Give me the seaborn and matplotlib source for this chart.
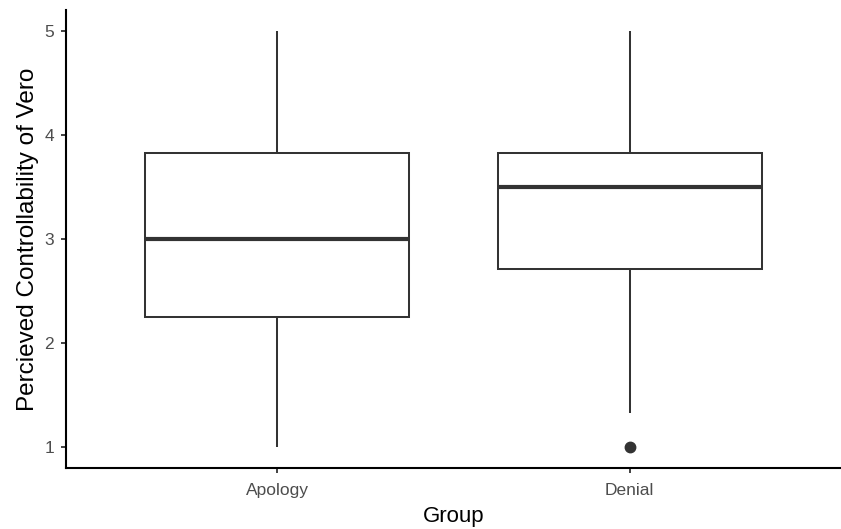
import matplotlib
matplotlib.use("Agg")
import matplotlib.pyplot as plt
import seaborn as sns
import pandas as pd

groups = ["Apology", "Denial"]
apology_scores = [1.0, 2.25, 2.25, 3.0, 3.83, 3.83, 5.0]
denial_scores = [1.0, 1.33, 2.71, 3.0, 3.5, 3.67, 3.83, 4.5, 5.0]
yticks = [1, 2, 3, 4, 5]

df = pd.DataFrame({
    "Group": [groups[0]] * len(apology_scores) + [groups[1]] * len(denial_scores),
    "Score": apology_scores + denial_scores,
})

sns.set_theme(style="ticks")
plt.rcParams["font.family"] = ["Liberation Sans", "DejaVu Sans"]

fig = plt.figure(figsize=(8.41, 5.29), dpi=100)
ax = fig.add_axes([66 / 841, (529 - 468) / 529, 1 - 66 / 841, (468 - 10) / 529])

dark = "#333333"
lw = 1.45
sns.boxplot(
    data=df, x="Group", y="Score", order=groups, ax=ax,
    width=0.75, color="white", linecolor=dark, linewidth=lw,
    showcaps=False,
    medianprops=dict(color=dark, linewidth=3.0),
    boxprops=dict(facecolor="white", edgecolor=dark, linewidth=lw),
    whiskerprops=dict(color=dark, linewidth=lw),
    flierprops=dict(marker="o", markerfacecolor=dark, markeredgecolor=dark, markersize=7.5),
)

ax.set_xlim(-0.6, 1.6)
ax.set_ylim(0.8, 5.2)
ax.set_yticks(yticks)
ax.set_yticklabels([str(t) for t in yticks])
ax.set_xlabel("Group", fontsize=16, color="black", labelpad=6)
ax.set_ylabel("Percieved Controllability of Vero", fontsize=17.5, color="black", labelpad=4)
ax.tick_params(axis="both", colors=dark, labelcolor="#4D4D4D", labelsize=12.5, length=3.5, width=1.3)
ax.tick_params(axis="x", pad=7)
ax.tick_params(axis="y", pad=5)
for side in ["top", "right"]:
    ax.spines[side].set_visible(False)
for side in ["left", "bottom"]:
    ax.spines[side].set_color("black")
    ax.spines[side].set_linewidth(1.5)

fig.savefig("out.png", dpi=100)
